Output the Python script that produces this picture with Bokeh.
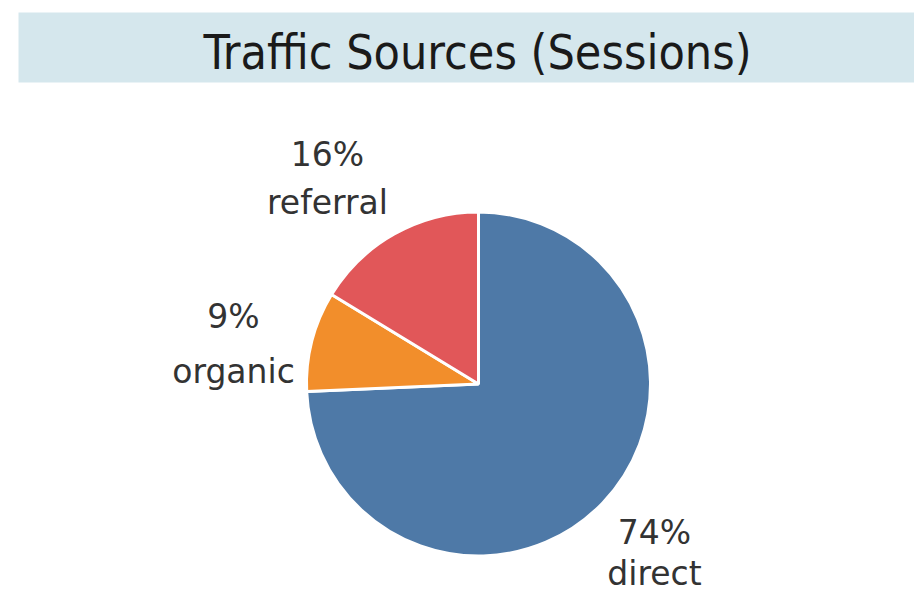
import numpy as np
from bokeh.plotting import figure
from bokeh.models import ColumnDataSource, Range1d
from bokeh.core.properties import value
from bokeh.embed import file_html
from bokeh.resources import INLINE

# ---- data ----
categories = ["direct", "organic", "referral"]
shares = [74.3, 9.4, 16.3]
pct_labels = ["74%", "9%", "16%"]
colors = ["#4E79A7", "#F28E2B", "#E15759"]
title_text = "Traffic Sources (Sessions)"

W, H = 914, 594
p = figure(width=W, height=H, output_backend="svg", toolbar_location=None,
           x_range=Range1d(0, W), y_range=Range1d(0, H),
           min_border=0, outline_line_color=None)
p.axis.visible = False
p.grid.visible = False
p.background_fill_color = "white"
p.border_fill_color = "white"

def Y(ref_y):
    return H - ref_y

def X(ref_x):
    return ref_x

# title bar
p.quad(left=X(18), right=W, bottom=Y(82), top=Y(12), fill_color="#D5E7ED", line_color=None)
p.text(x=[X(477)], y=[Y(51)], text=[title_text], text_align="center", text_baseline="alphabetic",
       text_font=value("DejaVu Sans Condensed, Open Sans"), text_font_size="48px", text_color="#1a1a1a")

# pie
frac = np.array(shares) / sum(shares)
ends = np.cumsum(frac)
starts = ends - frac
start_angle = np.pi / 2 - starts * 2 * np.pi
end_angle = np.pi / 2 - ends * 2 * np.pi
src = ColumnDataSource(dict(cat=categories, start=start_angle, end=end_angle, color=colors))
cx, cy, r = X(478), Y(383.5), 172
p.wedge(x=cx, y=cy, radius=r, start_angle="start", end_angle="end", direction="clock",
        fill_color="color", line_color="white", line_width=3, source=src)

# labels (beside each slice, baseline-aligned)
lab_x = [X(654), X(233), X(327)]
lab_top = [Y(532), Y(316), Y(154)]
lab_bot = [Y(573), Y(371), Y(202)]
font = value("DejaVu Sans")
p.text(x=lab_x, y=lab_top, text=pct_labels, text_align="center", text_baseline="alphabetic",
       text_font=font, text_font_size="33px", text_color="#333333")
p.text(x=lab_x, y=lab_bot, text=categories, text_align="center", text_baseline="alphabetic",
       text_font=font, text_font_size="33px", text_color="#333333")

open("out.html", "w").write(file_html(p, INLINE))
